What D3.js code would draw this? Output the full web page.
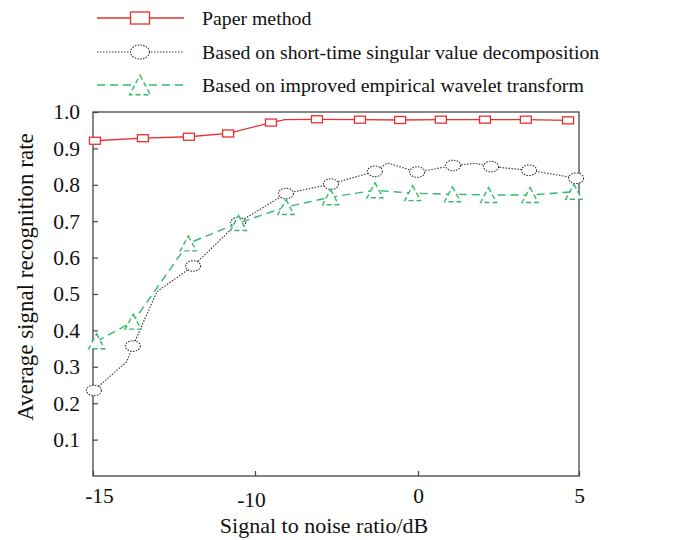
<!DOCTYPE html>
<html>
<head>
<meta charset="utf-8">
<script src="https://cdn.jsdelivr.net/npm/d3@7"></script>
<style>
  body { margin: 0; background: #fff; }
  svg { display: block; }
</style>
</head>
<body>
<svg id="chart"></svg>
<script>
// values
const xTicks = [-15, -10, 0, 5];
const yTicks = [0.1, 0.2, 0.3, 0.4, 0.5, 0.6, 0.7, 0.8, 0.9, 1.0];
const seriesNames = [
  "Paper method",
  "Based on short-time singular value decomposition",
  "Based on improved empirical wavelet transform",
];

// marker points
const paperSnr = [-14.94, -13.46, -12.04, -10.83, -9.02, -6.2, -3.56, -1.1, 0.71, 2.08, 3.35, 4.66];
const paperRate = [0.921, 0.928, 0.932, 0.941, 0.971, 0.98, 0.979, 0.978, 0.979, 0.979, 0.979, 0.977];
const svdSnr = [-14.97, -13.77, -11.91, -10.52, -8.1, -5.34, -2.64, -0.05, 1.09, 2.27, 3.45, 4.91];
const svdRate = [0.235, 0.357, 0.577, 0.696, 0.776, 0.802, 0.837, 0.835, 0.853, 0.85, 0.84, 0.818];
const ewtSnr = [-14.89, -13.76, -12.06, -10.51, -8.1, -5.36, -2.64, -0.33, 1.07, 2.19, 3.48, 4.84];
const ewtRate = [0.37, 0.424, 0.639, 0.695, 0.739, 0.766, 0.785, 0.777, 0.774, 0.772, 0.772, 0.781];

// extra line vertices without a marker
const paperBendSnr = [-8.16];
const paperBendRate = [0.979];
const svdBendSnr = [-13.96, -13.03, -1.88, 1.77];
const svdBendRate = [0.314, 0.506, 0.86, 0.859];
const ewtBendSnr = [];
const ewtBendRate = [];

const w = 675, h = 540;
const margin = { top: 112, right: 96, bottom: 64, left: 93 };
const font = "'Liberation Serif', 'Times New Roman', serif";
const red = "#ea2f2f", black = "#333", green = "#34b96a";

const svg = d3.select("#chart").attr("width", w).attr("height", h)
  .style("font-family", font);

// the x axis of the original is piecewise: -15..-10 and 0..5 get the same width as -10..0
const x = d3.scaleLinear()
  .domain([-15, -10, 0, 5])
  .range([margin.left, 255, 418, w - margin.right]);
const y = d3.scaleLinear()
  .domain([0, 1])
  .range([h - margin.bottom, margin.top]);

const zip = (xs, ys) => xs.map((d, i) => ({ x: d, y: ys[i] }));
const lineOf = (snr, rate, bSnr, bRate) =>
  zip(snr, rate).concat(zip(bSnr, bRate)).sort((a, b) => a.x - b.x);

const series = [
  { name: seriesNames[0], color: red, dash: null, width: 1.3, marker: "square",
    pts: zip(paperSnr, paperRate), line: lineOf(paperSnr, paperRate, paperBendSnr, paperBendRate) },
  { name: seriesNames[1], color: black, dash: "1.5,1.5", width: 1.1, marker: "circle",
    pts: zip(svdSnr, svdRate), line: lineOf(svdSnr, svdRate, svdBendSnr, svdBendRate) },
  { name: seriesNames[2], color: green, dash: "8,5", width: 1.4, marker: "triangle",
    pts: zip(ewtSnr, ewtRate), line: lineOf(ewtSnr, ewtRate, ewtBendSnr, ewtBendRate) },
];

// axes, ticks pointing inward
const xAxis = d3.axisBottom(x).tickValues(xTicks).tickSizeInner(-5).tickSizeOuter(0).tickPadding(13)
  .tickFormat((d) => String(d));
const yAxis = d3.axisLeft(y).tickValues(yTicks).tickSizeInner(-5).tickSizeOuter(0).tickPadding(13)
  .tickFormat(d3.format(".1f"));

const gx = svg.append("g")
  .attr("transform", `translate(0,${h - margin.bottom})`)
  .call(xAxis);
gx.selectAll("text")
  .attr("font-size", 21.5).attr("font-family", font).attr("fill", "#111")
  .attr("dx", (d) => (d === -15 ? 6 : d === -10 ? -4 : 0))
  .attr("y", (d) => (d === -10 ? 16 : 12));
const gy = svg.append("g")
  .attr("transform", `translate(${margin.left},0)`)
  .call(yAxis);
gy.selectAll("text").attr("font-size", 21.5).attr("font-family", font).attr("fill", "#111");
svg.selectAll(".domain").remove();
svg.selectAll(".tick line").attr("stroke", "#444").attr("stroke-width", 1.2);

// frame
svg.append("rect")
  .attr("x", margin.left).attr("y", margin.top)
  .attr("width", w - margin.right - margin.left)
  .attr("height", h - margin.bottom - margin.top)
  .attr("fill", "none").attr("stroke", "#444").attr("stroke-width", 1.3);

// axis titles
svg.append("text")
  .attr("x", 324).attr("y", 533)
  .attr("text-anchor", "middle").attr("font-size", 22).attr("fill", "#111")
  .text("Signal to noise ratio/dB");
svg.append("text")
  .attr("transform", "translate(33,277) rotate(-90)")
  .attr("text-anchor", "middle").attr("font-size", 23).attr("fill", "#111")
  .text("Average signal recognition rate");

function drawMarker(g, s, cx, cy, big) {
  const k = big ? 1.3 : 1;
  if (s.marker === "square") {
    const mw = (big ? 19 : 11), mh = (big ? 12 : 7);
    g.append("rect")
      .attr("x", cx - mw / 2).attr("y", cy - mh / 2)
      .attr("width", mw).attr("height", mh)
      .attr("fill", "#fff").attr("stroke", s.color).attr("stroke-width", 1.3);
  } else if (s.marker === "circle") {
    g.append("ellipse")
      .attr("cx", cx).attr("cy", cy)
      .attr("rx", big ? 9.5 : 7.5).attr("ry", big ? 7 : 5.3)
      .attr("fill", "#fff").attr("stroke", s.color)
      .attr("stroke-width", 1.1).attr("stroke-dasharray", "1.5,1.3");
  } else {
    const tw = 8 * k, th = 7.5 * k;
    g.append("path")
      .attr("d", `M${cx},${cy - th}L${cx + tw},${cy + th}L${cx - tw},${cy + th}Z`)
      .attr("fill", "#fff").attr("stroke", s.color)
      .attr("stroke-width", 1.4).attr("stroke-dasharray", "5,3");
  }
}

const line = d3.line().x((d) => x(d.x)).y((d) => y(d.y));

series.forEach((s) => {
  const g = svg.append("g");
  g.append("path")
    .datum(s.line)
    .attr("d", line)
    .attr("fill", "none")
    .attr("stroke", s.color)
    .attr("stroke-width", s.width)
    .attr("stroke-dasharray", s.dash);
  s.pts.forEach((p) => drawMarker(g, s, x(p.x), y(p.y), false));
});

// legend
const legY = [18, 52, 85];
series.forEach((s, i) => {
  const g = svg.append("g");
  g.append("line")
    .attr("x1", 97).attr("x2", 184).attr("y1", legY[i]).attr("y2", legY[i])
    .attr("stroke", s.color).attr("stroke-width", s.width)
    .attr("stroke-dasharray", s.dash);
  drawMarker(g, s, 140, legY[i], true);
  g.append("text")
    .attr("x", 202).attr("y", legY[i] + 7)
    .attr("font-size", 19.8).attr("fill", "#111")
    .text(s.name);
});
</script>
</body>
</html>
